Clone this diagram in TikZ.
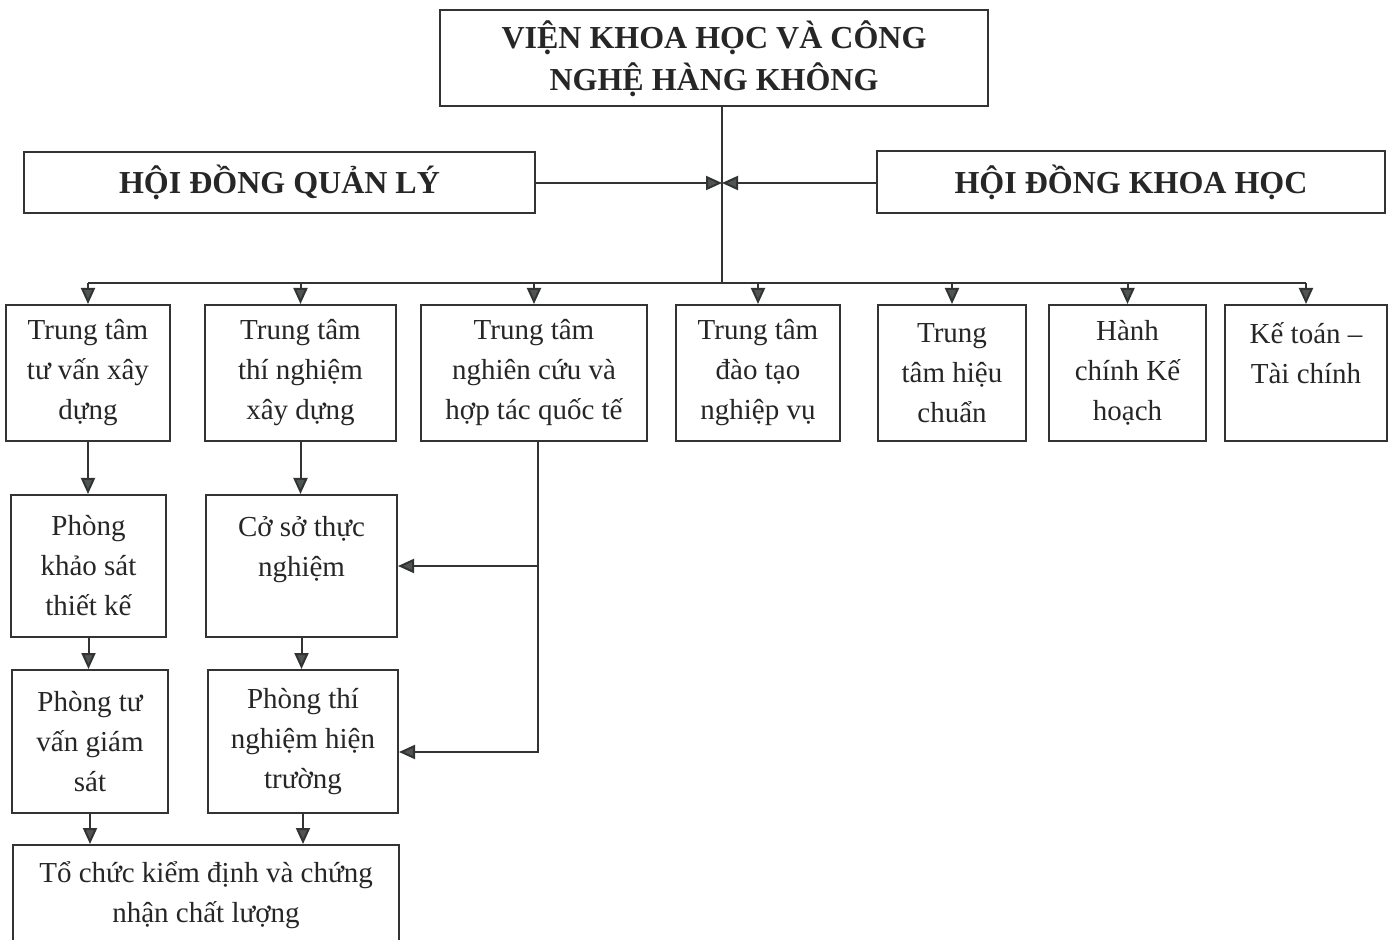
\documentclass[tikz,border=0pt]{standalone}
\usepackage{fontspec}
\setmainfont{Liberation Serif}
\usepackage{xcolor}
\usepackage{tikz}
\usetikzlibrary{arrows.meta}
\definecolor{inkline}{HTML}{333333}
\definecolor{inktip}{HTML}{4F5552}
\definecolor{inktext}{HTML}{262626}
\tikzset{
	unit/.style = {draw=inkline, line width=1pt, align=center, inner sep=0pt, text=inktext,
		font=\fontsize{14.5}{20}\selectfont},
	board/.style = {unit, font=\bfseries\fontsize{16}{21}\selectfont},
	link/.style = {draw=inkline, line width=1pt},
	arr/.style = {link, -{Triangle[length=8pt,width=7pt,fill=inktip]}}
}

\begin{document}
\begin{tikzpicture}[x=0.5pt, y=-0.5pt]
	\useasboundingbox (0,0) rectangle (1392,940);
	\clip (0,0) rectangle (1392,940);
	\node [board, minimum width=274pt, minimum height=48pt] (vien) at (714,58.5) {VIỆN KHOA HỌC VÀ CÔNG\\NGHỆ HÀNG KHÔNG};
	\node [board, minimum width=255.5pt, minimum height=30.5pt] (hdql) at (279.5,182.5) {HỘI ĐỒNG QUẢN LÝ};
	\node [board, minimum width=254pt, minimum height=31pt] (hdkh) at (1131,182) {HỘI ĐỒNG KHOA HỌC};
	\coordinate (hub) at (722,183);
	\coordinate (bus) at (722,283);
	\coordinate (side) at (538,752);

	\node [unit, minimum width=82pt, minimum height=68pt] (ttxd) at (88,373) {Trung tâm\\tư vấn xây\\dựng};
	\node [unit, minimum width=95.5pt, minimum height=68pt] (ttnxd) at (300.5,373) {Trung tâm\\thí nghiệm\\xây dựng};
	\node [unit, minimum width=113pt, minimum height=68pt] (ttnc) at (534,373) {Trung tâm\\nghiên cứu và\\hợp tác quốc tế};
	\node [unit, minimum width=82pt, minimum height=68pt] (ttdt) at (758,373) {Trung tâm\\đào tạo\\nghiệp vụ};
	\node [unit, minimum width=74pt, minimum height=68pt] (tthc) at (952,373) {Trung\\tâm hiệu\\chuẩn};
	\node [unit, minimum width=78.5pt, minimum height=68pt] (hckh) at (1127.5,373) {Hành\\chính Kế\\hoạch};
	\node [unit, minimum width=81pt, minimum height=68pt] (ktc) at (1306,373) {Kế toán –\\Tài chính\\\mbox{}};

	\node [unit, minimum width=77.5pt, minimum height=71pt] (pks) at (88.5,566) {Phòng\\khảo sát\\thiết kế};
	\node [unit, minimum width=95.5pt, minimum height=71pt] (csn) at (301.5,566) {Cở sở thực\\nghiệm\\\mbox{}};
	\node [unit, minimum width=78pt, minimum height=71.5pt] (ptv) at (90,741.5) {Phòng tư\\vấn giám\\sát};
	\node [unit, minimum width=95pt, minimum height=71.5pt] (ptn) at (303,741.5) {Phòng thí\\nghiệm hiện\\trường};
	\node [unit, minimum width=193pt, minimum height=50pt] (tcc) at (206,895) {Tổ chức kiểm định và chứng\\nhận chất lượng};

	\draw [link] (vien.south -| hub) -- (bus);
	\draw [arr] (hdql.east |- hub) -- (hub);
	\draw [arr] (hdkh.west |- hub) -- (hub);
	\draw [link] (bus -| ttxd) -- (bus -| ktc);
	\foreach \n in {ttxd,ttnxd,ttnc,ttdt,tthc,hckh,ktc}
		\draw [arr] (bus -| \n) -- (\n.north);

	\draw [arr] (ttxd.south) -- (ttxd.south |- pks.north);
	\draw [arr] (pks.south) -- (pks.south |- ptv.north);
	\draw [arr] (ptv.south) -- (ptv.south |- tcc.north);
	\draw [arr] (ttnxd.south) -- (ttnxd.south |- csn.north);
	\draw [arr] (csn.south) -- (csn.south |- ptn.north);
	\draw [arr] (ptn.south) -- (ptn.south |- tcc.north);
	\draw [arr] (side |- ttnc.south) -- (side) -- (side -| ptn.east);
	\draw [arr] (side |- csn.east) -- (csn.east);
\end{tikzpicture}
\end{document}
